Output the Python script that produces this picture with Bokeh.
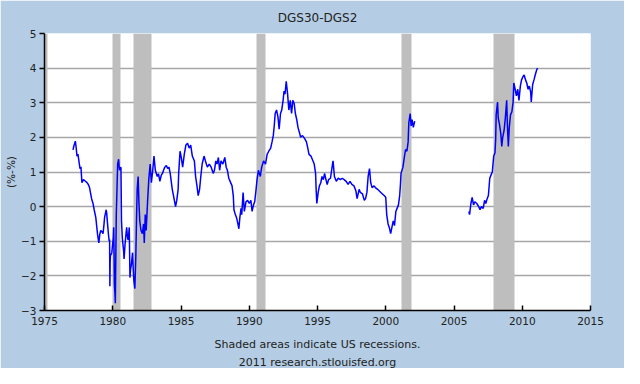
import math
from bokeh.plotting import figure
from bokeh.models import Title, FixedTicker, Range1d
from bokeh.embed import file_html
from bokeh.resources import INLINE

NaN = float("nan")

title_text = "DGS30-DGS2"
y_label = "(%-%)"
footer_1 = "Shaded areas indicate US recessions."
footer_2 = "2011 research.stlouisfed.org"

x_ticks = [1975, 1980, 1985, 1990, 1995, 2000, 2005, 2010, 2015]
y_ticks = [-3, -2, -1, 0, 1, 2, 3, 4, 5]

rec_start = [1973.84, 1980.0, 1981.5, 1990.54, 2001.17, 2007.92]
rec_end = [1975.21, 1980.54, 1982.87, 1991.21, 2001.87, 2009.46]

years = [
    1977.09, 1977.15, 1977.26, 1977.32, 1977.38, 1977.45, 1977.6, 1977.67, 1977.74, 1977.85,
    1977.98, 1978.1, 1978.21, 1978.3, 1978.45, 1978.55, 1978.64, 1978.76, 1978.88, 1978.98,
    1979.05, 1979.12, 1979.2, 1979.29, 1979.35, 1979.4, 1979.52, 1979.56, 1979.6, 1979.69,
    1979.74, 1979.77, 1979.79, 1979.81, 1979.83, 1979.93, 1980.0, 1980.04, 1980.07, 1980.10,
    1980.12, 1980.16, 1980.19, 1980.22, 1980.26, 1980.31, 1980.36, 1980.43, 1980.47, 1980.5,
    1980.6, 1980.64, 1980.7, 1980.76, 1980.8, 1980.83, 1980.9, 1980.95, 1981.02, 1981.07,
    1981.12, 1981.17, 1981.21, 1981.26, 1981.31, 1981.36, 1981.45, 1981.5, 1981.55, 1981.62,
    1981.69, 1981.75, 1981.79, 1981.86, 1981.92, 1981.98, 1982.07, 1982.17, 1982.26, 1982.31,
    1982.38, 1982.45, 1982.55, 1982.64, 1982.74, 1982.83, 1982.93, 1983.02, 1983.12, 1983.26,
    1983.35, 1983.45, 1983.55, 1983.64, 1983.72, 1983.81, 1983.93, 1984.02, 1984.12, 1984.21,
    1984.36, 1984.45, 1984.6, 1984.69, 1984.79, 1984.83, 1984.93, 1985.02, 1985.12, 1985.24,
    1985.36, 1985.48, 1985.6, 1985.71, 1985.83, 1985.98, 1986.07, 1986.17, 1986.26, 1986.36,
    1986.45, 1986.55, 1986.69, 1986.79, 1986.93, 1987.07, 1987.21, 1987.36, 1987.45, 1987.55,
    1987.64, 1987.74, 1987.83, 1987.93, 1988.07, 1988.21, 1988.31, 1988.4, 1988.5, 1988.6,
    1988.74, 1988.83, 1988.88, 1988.98, 1989.07, 1989.17, 1989.24, 1989.31, 1989.4, 1989.45,
    1989.55, 1989.64, 1989.76, 1989.88, 1990.0, 1990.12, 1990.21, 1990.31, 1990.4, 1990.5,
    1990.57, 1990.67, 1990.81, 1990.91, 1991.05, 1991.19, 1991.31, 1991.43, 1991.57, 1991.67,
    1991.76, 1991.83, 1991.9, 1992.0, 1992.1, 1992.19, 1992.29, 1992.38, 1992.48, 1992.55,
    1992.62, 1992.71, 1992.81, 1992.9, 1993.0, 1993.1, 1993.19, 1993.29, 1993.38, 1993.48,
    1993.57, 1993.67, 1993.76, 1993.9, 1994.05, 1994.19, 1994.29, 1994.38, 1994.52, 1994.67,
    1994.76, 1994.86, 1994.9, 1994.95, 1995.05, 1995.14, 1995.24, 1995.33, 1995.43, 1995.52,
    1995.62, 1995.71, 1995.81, 1995.95, 1996.1, 1996.14, 1996.24, 1996.38, 1996.52, 1996.67,
    1996.81, 1996.95, 1997.1, 1997.24, 1997.38, 1997.52, 1997.67, 1997.81, 1997.9, 1998.05,
    1998.14, 1998.29, 1998.43, 1998.52, 1998.62, 1998.71, 1998.81, 1998.9, 1999.0, 1999.14,
    1999.24, 1999.4, 1999.64, 1999.88, 2000.0, 2000.07, 2000.17, 2000.26, 2000.36, 2000.45,
    2000.55, 2000.64, 2000.74, 2000.83, 2000.93, 2001.02, 2001.07, 2001.12, 2001.26, 2001.36,
    2001.45, 2001.55, 2001.64, 2001.69, 2001.79, 2001.86, 2001.93, 2002.02, 2002.12,
    2004.0,
    2006.09, 2006.14, 2006.24, 2006.33, 2006.43, 2006.52, 2006.67, 2006.81, 2006.91, 2007.0,
    2007.14, 2007.24, 2007.33, 2007.43, 2007.52, 2007.62, 2007.71, 2007.81, 2007.91, 2008.0,
    2008.05, 2008.09, 2008.19, 2008.24, 2008.33, 2008.43, 2008.5, 2008.57, 2008.67, 2008.76,
    2008.86, 2008.91, 2008.98, 2009.05, 2009.14, 2009.24, 2009.33, 2009.38, 2009.48, 2009.57,
    2009.67, 2009.76, 2009.86, 2009.95, 2010.05, 2010.14, 2010.24, 2010.33, 2010.43, 2010.52,
    2010.62, 2010.66, 2010.76, 2010.86, 2010.95, 2011.05, 2011.12,
]

spread = [
    1.64, 1.75, 1.89, 1.70, 1.46, 1.52, 1.10, 1.15, 0.69, 0.78,
    0.74, 0.70, 0.64, 0.55, 0.23, 0.10, -0.09, -0.32, -0.78, -1.05,
    -0.80, -0.69, -0.72, -0.78, -0.55, -0.32, -0.09, -0.20, -0.41, -0.82,
    -1.00, -0.95, -2.30, -1.60, -1.42, -1.33, -1.05, -0.90, -0.60, -1.50,
    -2.24, -2.50, -2.79, -1.60, -0.23, 0.50, 1.23, 1.37, 1.15, 1.05,
    1.14, -0.41, -0.90, -1.14, -1.30, -1.51, -1.10, -0.87, -0.60, -0.85,
    -0.96, -0.80, -0.60, -2.05, -1.80, -1.69, -1.33, -1.80, -2.15, -2.37,
    -1.42, -0.20, 0.50, 0.87, 0.10, -0.41, -0.69, -0.78, -0.50, -1.05,
    -0.23, -0.69, 0.14, 0.78, 1.23, 0.69, 1.05, 1.46, 1.05, 0.87,
    0.95, 0.73, 0.90, 0.96, 1.05, 1.14, 1.19, 1.10, 1.14, 0.96,
    0.50, 0.32, 0.00, 0.18, 0.50, 0.96, 1.60, 1.42, 1.14, 1.51,
    1.78, 1.83, 1.69, 1.78, 1.46, 1.32, 0.87, 0.60, 0.32, 0.50,
    0.87, 1.23, 1.46, 1.32, 1.14, 1.23, 1.14, 0.96, 1.05, 1.32,
    1.23, 1.42, 1.05, 1.32, 1.23, 1.42, 1.14, 1.05, 0.82, 0.73,
    0.60, 0.32, -0.09, -0.23, -0.32, -0.50, -0.64, -0.32, -0.05, -0.23,
    0.41, -0.14, 0.14, 0.18, 0.09, 0.18, -0.14, 0.05, 0.14, 0.50,
    0.78, 1.05, 0.87, 1.14, 1.32, 1.23, 1.51, 1.60, 1.69, 1.87,
    2.05, 2.33, 2.69, 2.79, 2.60, 2.24, 2.69, 2.79, 3.07, 3.34,
    3.25, 3.62, 3.25, 2.79, 3.07, 2.69, 3.07, 2.98, 2.69, 2.51,
    2.29, 2.15, 2.01, 2.05, 1.97, 1.87, 1.69, 1.51, 1.46, 1.32,
    1.23, 0.96, 0.50, 0.09, 0.41, 0.60, 0.69, 0.87, 0.78, 0.96,
    0.78, 0.64, 0.78, 0.82, 1.23, 1.32, 0.87, 0.73, 0.82, 0.78,
    0.82, 0.78, 0.73, 0.64, 0.73, 0.64, 0.60, 0.46, 0.23, 0.50,
    0.41, 0.37, 0.18, 0.23, 0.41, 0.87, 1.10, 0.69, 0.55, 0.60,
    0.55, 0.50, 0.41, 0.32, 0.27, -0.23, -0.50, -0.60, -0.78, -0.60,
    -0.41, -0.55, -0.14, -0.05, 0.05, 0.32, 0.60, 0.96, 1.14, 1.42,
    1.65, 1.60, 1.87, 2.42, 2.69, 2.33, 2.51, 2.29, 2.47,
    NaN,
    -0.14, -0.23, 0.09, 0.27, 0.05, 0.14, 0.09, 0.00, -0.09, 0.00,
    -0.05, 0.18, 0.09, 0.23, 0.32, 0.82, 0.91, 1.01, 1.46, 1.55,
    1.92, 2.65, 3.02, 2.56, 2.38, 2.10, 1.74, 2.01, 2.20, 2.56,
    3.07, 2.38, 1.74, 2.29, 2.65, 2.74, 3.02, 3.57, 3.39, 3.20,
    3.39, 3.07, 3.48, 3.66, 3.75, 3.80, 3.66, 3.57, 3.39, 3.48,
    3.30, 3.02, 3.52, 3.66, 3.80, 3.94, 4.00,
]

FONT = "DejaVu Sans"
TEXT_COLOR = "#222222"
GRID_COLOR = "#A6A6A6"

p = figure(
    width=624, height=368,
    x_range=Range1d(x_ticks[0], x_ticks[-1]),
    y_range=Range1d(y_ticks[0], y_ticks[-1]),
    output_backend="svg", toolbar_location=None,
    min_border_left=44, min_border_right=34,
    min_border_top=32, min_border_bottom=58,
)
p.background_fill_color = "white"
p.border_fill_color = "#B4CDE4"
p.outline_line_color = None

p.title.text = title_text
p.title.align = "center"
p.title.text_font = FONT
p.title.text_font_size = "12px"
p.title.text_font_style = "normal"
p.title.text_color = TEXT_COLOR
p.title.standoff = 17

# x axis (its label carries the first footer line)
xa = p.xaxis[0]
xa.ticker = FixedTicker(ticks=x_ticks)
xa.major_tick_in = 5
xa.major_tick_out = 0
xa.minor_tick_line_color = None
xa.axis_line_color = "black"
xa.axis_line_width = 1.5
xa.major_tick_line_color = "black"
xa.major_tick_line_width = 1.5
xa.major_label_standoff = 6
xa.major_label_text_font = FONT
xa.major_label_text_font_size = "10.5px"
xa.major_label_text_color = TEXT_COLOR
xa.axis_label = footer_1
xa.axis_label_standoff = 10
xa.axis_label_text_font = FONT
xa.axis_label_text_font_size = "11px"
xa.axis_label_text_font_style = "normal"
xa.axis_label_text_color = TEXT_COLOR

# y axis
ya = p.yaxis[0]
ya.ticker = FixedTicker(ticks=y_ticks)
ya.major_tick_in = 0
ya.major_tick_out = 5
ya.minor_tick_line_color = None
ya.axis_line_color = "black"
ya.axis_line_width = 1.5
ya.major_tick_line_color = "black"
ya.major_tick_line_width = 1.5
ya.major_label_standoff = 3
ya.major_label_text_font = FONT
ya.major_label_text_font_size = "10.5px"
ya.major_label_text_color = TEXT_COLOR
ya.axis_label = y_label
ya.axis_label_standoff = 1
ya.axis_label_text_font = FONT
ya.axis_label_text_font_size = "10.5px"
ya.axis_label_text_font_style = "normal"
ya.axis_label_text_color = TEXT_COLOR

# horizontal grid lines (drawn under the recession bars)
p.xgrid.visible = False
p.ygrid.ticker = FixedTicker(ticks=y_ticks)
p.ygrid.grid_line_color = GRID_COLOR
p.ygrid.grid_line_width = 1.6

p.vstrip(x0=rec_start, x1=rec_end, fill_color="#BEBEBE", fill_alpha=1.0, line_color=None)
p.line(years, spread, line_color="#0000FF", line_width=1.5)

p.add_layout(Title(text=footer_2, align="center", text_font=FONT, text_font_size="11px",
                   text_font_style="normal", text_color=TEXT_COLOR, standoff=0), "below")

with open("out.html", "w") as f:
    f.write(file_html(p, INLINE))
